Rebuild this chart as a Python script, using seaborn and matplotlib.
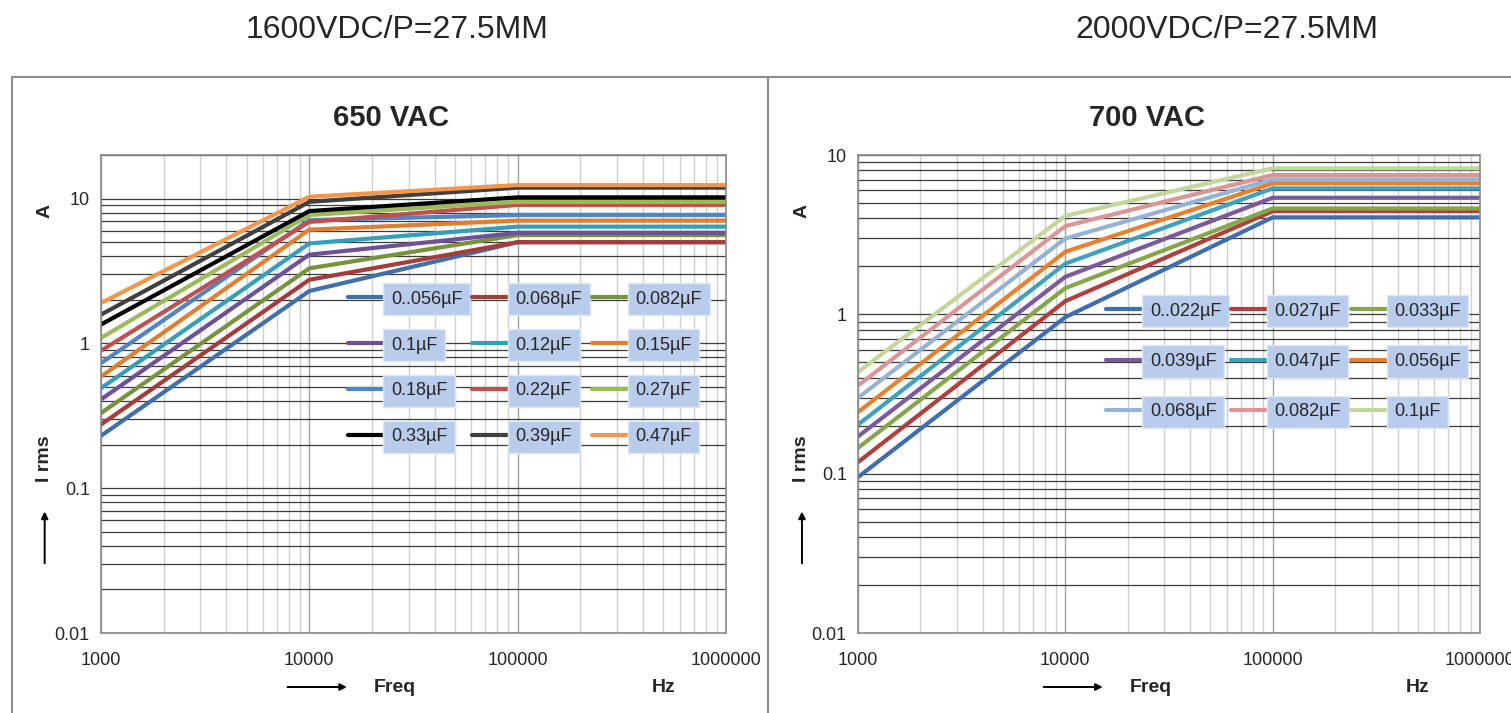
import numpy as np
import pandas as pd

import seaborn as sns
import matplotlib.pyplot as plt
from matplotlib.patches import Rectangle
from matplotlib.ticker import FixedLocator, LogLocator, NullFormatter

sns.set_style('white')
plt.rcParams['font.family'] = ['Liberation Sans Narrow', 'Liberation Sans', 'DejaVu Sans']

freq = [1000, 10000, 100000, 1000000]

# 1600VDC / 650 VAC
left_caps = ['0..056µF', '0.068µF', '0.082µF', '0.1µF', '0.12µF', '0.15µF',
             '0.18µF', '0.22µF', '0.27µF', '0.33µF', '0.39µF', '0.47µF']
left_colors = ['#3F6FAD', '#A63C3A', '#77933C', '#6E5097', '#31A0B8', '#E07F2E',
               '#4F85C4', '#C0504D', '#9BBB59', '#000000', '#404040', '#F79646']
left_1k = [0.23, 0.275, 0.33, 0.41, 0.49, 0.59, 0.73, 0.89, 1.09, 1.35, 1.58, 1.9]
left_10k = [2.3, 2.75, 3.3, 4.1, 4.9, 6.1, 7.1, 6.9, 7.7, 8.2, 9.5, 10.3]
left_100k = [5.0, 5.0, 5.6, 5.8, 6.4, 7.05, 7.7, 9.05, 9.5, 10.2, 11.9, 12.4]
left_1m = [5.0, 5.0, 5.6, 5.8, 6.4, 7.05, 7.7, 9.05, 9.5, 10.2, 11.9, 12.4]

# 2000VDC / 700 VAC
right_caps = ['0..022µF', '0.027µF', '0.033µF', '0.039µF', '0.047µF', '0.056µF',
              '0.068µF', '0.082µF', '0.1µF']
right_colors = ['#3E6EB0', '#B0403D', '#86A64A', '#7A5A9C', '#3BA3BE', '#E8812E',
                '#95B3D7', '#D99694', '#C3D69B']
right_1k = [0.095, 0.118, 0.145, 0.171, 0.203, 0.243, 0.299, 0.357, 0.434]
right_10k = [0.96, 1.21, 1.46, 1.72, 2.08, 2.47, 2.99, 3.58, 4.15]
right_100k = [4.06, 4.44, 4.62, 5.39, 6.17, 6.64, 7.03, 7.48, 8.25]
right_1m = [4.06, 4.44, 4.62, 5.39, 6.17, 6.64, 7.03, 7.48, 8.25]


def make_df(caps, cols):
    rows = []
    for i, cap in enumerate(caps):
        for f, vals in zip(freq, cols):
            rows.append({'Cap': cap, 'Freq': f, 'I': vals[i]})
    return pd.DataFrame(rows)


def draw_panel(ax, caps, colors, cols, ymax, title, leg_anchor, nrows, rowgap):
    ax.set_xscale('log')
    ax.set_yscale('log')
    df = make_df(caps, cols)
    sns.lineplot(data=df, x='Freq', y='I', hue='Cap', hue_order=caps,
                 palette=dict(zip(caps, colors)), lw=3, estimator=None,
                 sort=False, ax=ax)

    ax.set_xlim(1000, 1000000)
    ax.set_ylim(0.01, ymax)
    ax.xaxis.set_major_locator(FixedLocator([1e3, 1e4, 1e5, 1e6]))
    ax.set_xticklabels(['1000', '10000', '100000', '1000000'])
    ax.xaxis.set_minor_locator(LogLocator(base=10, subs=range(2, 10)))
    ax.xaxis.set_minor_formatter(NullFormatter())
    ax.yaxis.set_major_locator(FixedLocator([0.01, 0.1, 1, 10]))
    ax.set_yticklabels(['0.01', '0.1', '1', '10'])
    ax.yaxis.set_minor_locator(LogLocator(base=10, subs=range(2, 10)))
    ax.yaxis.set_minor_formatter(NullFormatter())

    ax.set_axisbelow(True)
    ax.grid(which='minor', axis='x', color='#CFCFCF', lw=1.0)
    ax.grid(which='major', axis='x', color='#A0A0A0', lw=1.0)
    ax.grid(which='both', axis='y', color='#3C3C3C', lw=0.9)
    ax.tick_params(which='both', length=0, labelsize=13)
    ax.tick_params(axis='x', pad=14)
    ax.tick_params(axis='y', pad=8)
    for sp in ax.spines.values():
        sp.set_color('#8A8A8A')
        sp.set_linewidth(1.2)
    ax.set_xlabel('')
    ax.set_ylabel('')

    ax.text(0.464, 1.077, title, transform=ax.transAxes, ha='center', va='center',
            fontsize=21, fontweight='bold')

    # axis captions
    ax.text(-0.09, 0.883, 'A', transform=ax.transAxes, rotation=90, ha='center',
            va='center', fontsize=14, fontweight='bold')
    ax.text(-0.09, 0.365, 'I rms', transform=ax.transAxes, rotation=90, ha='center',
            va='center', fontsize=14, fontweight='bold')
    ax.annotate('', xy=(-0.09, 0.26), xytext=(-0.09, 0.14), xycoords='axes fraction',
                arrowprops=dict(arrowstyle='-|>', color='black', lw=1.4),
                annotation_clip=False)
    ax.annotate('', xy=(0.398, -0.113), xytext=(0.294, -0.113), xycoords='axes fraction',
                arrowprops=dict(arrowstyle='-|>', color='black', lw=1.4),
                annotation_clip=False)
    ax.text(0.47, -0.115, 'Freq', transform=ax.transAxes, ha='center', va='center',
            fontsize=14, fontweight='bold')
    ax.text(0.9, -0.115, 'Hz', transform=ax.transAxes, ha='center', va='center',
            fontsize=14, fontweight='bold')

    handles, labels = ax.get_legend_handles_labels()
    ax.legend_.remove()
    order = [r * 3 + c for c in range(3) for r in range(nrows)]
    leg = ax.legend([handles[k] for k in order], [labels[k] for k in order],
                    ncol=3, frameon=False, loc='upper left', bbox_to_anchor=leg_anchor,
                    fontsize=13, handlelength=2.0, handletextpad=0.4,
                    columnspacing=0.55, labelspacing=rowgap, borderpad=0)
    for t in leg.get_texts():
        t.set_bbox(dict(boxstyle='square,pad=0.42', fc='#B9CCEB', ec='#DCE6F4', lw=1))


fig = plt.figure(figsize=(15.11, 7.13), dpi=100)
ax1 = fig.add_axes([0.0668, 0.1122, 0.4137, 0.6704])
ax2 = fig.add_axes([0.5678, 0.1122, 0.4117, 0.6704])

draw_panel(ax1, left_caps, left_colors, [left_1k, left_10k, left_100k, left_1m],
           20, '650 VAC', (0.38, 0.735), 4, 1.6)
draw_panel(ax2, right_caps, right_colors, [right_1k, right_10k, right_100k, right_1m],
           10, '700 VAC', (0.385, 0.71), 3, 1.85)

fig.add_artist(Rectangle((0.0079, -0.05), 0.5003, 0.942, transform=fig.transFigure,
                         fill=False, ec='#8C8C8C', lw=1.5))
fig.add_artist(Rectangle((0.5082, -0.05), 0.6, 0.942, transform=fig.transFigure,
                         fill=False, ec='#8C8C8C', lw=1.5))

fig.text(0.263, 0.958, '1600VDC/P=27.5MM', ha='center', va='center', fontsize=23,
         family=['Liberation Sans', 'DejaVu Sans'])
fig.text(0.812, 0.958, '2000VDC/P=27.5MM', ha='center', va='center', fontsize=23,
         family=['Liberation Sans', 'DejaVu Sans'])

plt.savefig('out.png', dpi=100)
